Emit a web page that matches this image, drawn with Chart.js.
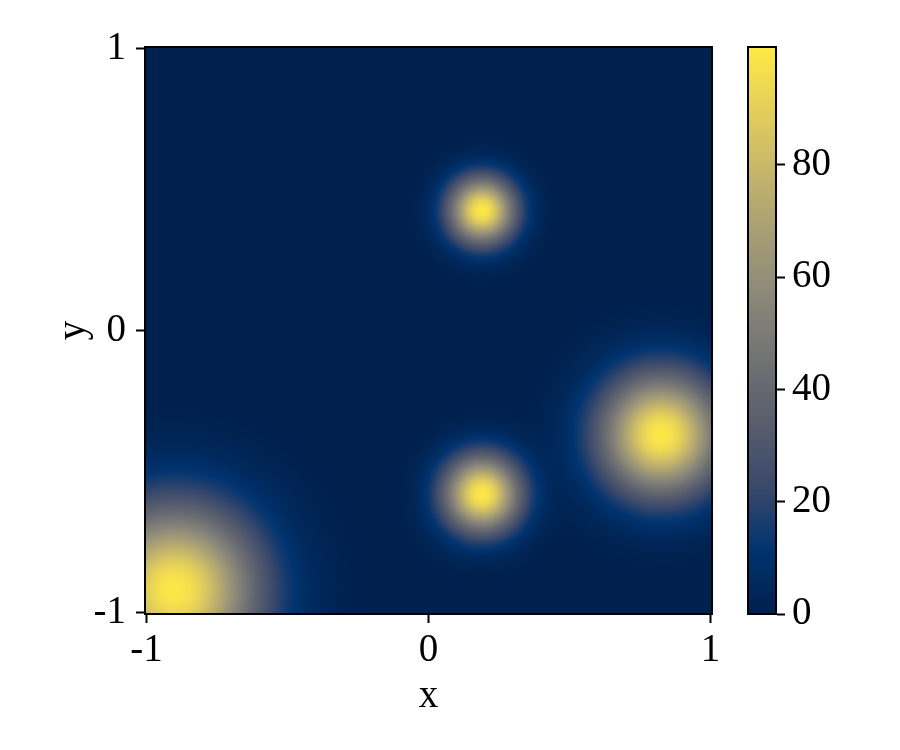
<!DOCTYPE html>
<html>
<head>
<meta charset="utf-8">
<script src="https://cdn.jsdelivr.net/npm/chart.js@4.4.1/dist/chart.umd.min.js"></script>
<style>
  body { margin: 0; background: #fff; }
  #wrap { position: relative; width: 900px; height: 750px; }
  #wrap canvas { position: absolute; left: 0; top: 0; }
</style>
</head>
<body>
<div id="wrap">
  <canvas id="heat" width="900" height="750"></canvas>
  <canvas id="cbar" width="900" height="750"></canvas>
</div>
<script>
// blobs (centre, spread, peak)
const blobX = [0.19, 0.19, 0.825, -0.90];
const blobY = [0.425, -0.58, -0.37, -0.92];
const blobSigma = [0.082, 0.095, 0.150, 0.205];
const blobPeak = [100, 100, 100, 100];

const xTicks = [-1, 0, 1];
const yTicks = [-1, 0, 1];
const cbarTicks = [0, 20, 40, 60, 80];
const cbarMax = 101;

// cividis anchors
const cividisStops = [0, 0.111, 0.222, 0.333, 0.444, 0.556, 0.667, 0.778, 0.889, 1];
const cividisRGB = [
  [0, 32, 77], [0, 51, 111], [57, 72, 107], [87, 93, 109], [112, 113, 115],
  [138, 135, 121], [166, 157, 117], [196, 181, 108], [228, 207, 91], [255, 234, 70]
];

function cividis(t) {
  t = Math.max(0, Math.min(1, t));
  let i = 0;
  while (i < cividisStops.length - 2 && t > cividisStops[i + 1]) i++;
  const f = (t - cividisStops[i]) / (cividisStops[i + 1] - cividisStops[i]);
  const a = cividisRGB[i], b = cividisRGB[i + 1];
  return [a[0] + (b[0] - a[0]) * f, a[1] + (b[1] - a[1]) * f, a[2] + (b[2] - a[2]) * f];
}

function fieldAt(x, y) {
  let v = 0;
  for (let k = 0; k < blobX.length; k++) {
    const dx = x - blobX[k], dy = y - blobY[k];
    v += blobPeak[k] * Math.exp(-(dx * dx + dy * dy) / (2 * blobSigma[k] * blobSigma[k]));
  }
  return v;
}

const FONT = { family: "'Liberation Serif', 'DejaVu Serif', serif", size: 39 };
Chart.defaults.color = '#000';

const heatPlugin = {
  id: 'heat',
  beforeDatasetsDraw(chart) {
    const { ctx, chartArea: a, scales } = chart;
    const w = Math.round(a.right - a.left), h = Math.round(a.bottom - a.top);
    const img = ctx.createImageData(w, h);
    for (let j = 0; j < h; j++) {
      const yv = scales.y.getValueForPixel(a.top + j + 0.5);
      for (let i = 0; i < w; i++) {
        const xv = scales.x.getValueForPixel(a.left + i + 0.5);
        const c = cividis(fieldAt(xv, yv) / cbarMax);
        const p = (j * w + i) * 4;
        img.data[p] = c[0]; img.data[p + 1] = c[1]; img.data[p + 2] = c[2]; img.data[p + 3] = 255;
      }
    }
    ctx.putImageData(img, Math.round(a.left), Math.round(a.top));
  },
  afterDatasetsDraw(chart) {
    const { ctx, chartArea: a } = chart;
    ctx.save();
    ctx.strokeStyle = '#000';
    ctx.lineWidth = 2;
    ctx.strokeRect(a.left, a.top, a.right - a.left, a.bottom - a.top);
    ctx.restore();
  }
};

new Chart(document.getElementById('heat'), {
  type: 'scatter',
  data: { datasets: [{ data: blobX.map((x, i) => ({ x: x, y: blobY[i] })), pointRadius: 0 }] },
  options: {
    responsive: false,
    animation: false,
    layout: { padding: { left: 0, top: 47, right: 188, bottom: 0 } },
    plugins: { legend: { display: false }, tooltip: { enabled: false } },
    scales: {
      x: {
        type: 'linear', min: -1.005, max: 1.005,
        afterBuildTicks: s => { s.ticks = xTicks.map(v => ({ value: v })); },
        afterFit: s => { s.height = 136; },
        ticks: { font: FONT, padding: 4, maxRotation: 0, callback: v => String(v) },
        grid: { drawOnChartArea: false, tickLength: 9, tickWidth: 2, tickColor: '#000' },
        border: { display: true, color: '#000', width: 2 },
        title: { display: true, text: 'x', font: FONT, padding: { top: 0, bottom: 30 } }
      },
      y: {
        type: 'linear', min: -1.005, max: 1.005,
        afterBuildTicks: s => { s.ticks = yTicks.map(v => ({ value: v })); },
        afterFit: s => { s.width = 145; },
        ticks: { font: FONT, padding: 10, callback: v => String(v) },
        grid: { drawOnChartArea: false, tickLength: 9, tickWidth: 2, tickColor: '#000' },
        border: { display: true, color: '#000', width: 2 },
        title: { display: true, text: 'y', font: FONT, padding: { top: 50, bottom: 0 } }
      }
    }
  },
  plugins: [heatPlugin]
});

const cbarPlugin = {
  id: 'cbar',
  beforeDatasetsDraw(chart) {
    const { ctx, chartArea: a, scales } = chart;
    for (let py = Math.floor(a.top); py < a.bottom; py++) {
      const c = cividis(scales.y.getValueForPixel(py + 0.5) / cbarMax);
      ctx.fillStyle = 'rgb(' + c.map(Math.round).join(',') + ')';
      ctx.fillRect(a.left, py, a.right - a.left, 1);
    }
  },
  afterDatasetsDraw(chart) {
    const { ctx, chartArea: a } = chart;
    ctx.save();
    ctx.strokeStyle = '#000';
    ctx.lineWidth = 2;
    ctx.strokeRect(a.left, a.top, a.right - a.left, a.bottom - a.top);
    ctx.restore();
  }
};

new Chart(document.getElementById('cbar'), {
  type: 'scatter',
  data: { datasets: [{ data: [], pointRadius: 0 }] },
  options: {
    responsive: false,
    animation: false,
    layout: { padding: { left: 748, top: 47, right: 0, bottom: 136 } },
    plugins: { legend: { display: false }, tooltip: { enabled: false } },
    scales: {
      x: { type: 'linear', display: false, min: 0, max: 1 },
      y: {
        type: 'linear', position: 'right', min: 0, max: cbarMax,
        afterBuildTicks: s => { s.ticks = cbarTicks.map(v => ({ value: v })); },
        afterFit: s => { s.width = 124; },
        ticks: { font: FONT, padding: 7, callback: v => String(v) },
        grid: { drawOnChartArea: false, tickLength: 9, tickWidth: 2, tickColor: '#000' },
        border: { display: true, color: '#000', width: 2 }
      }
    }
  },
  plugins: [cbarPlugin]
});
</script>
</body>
</html>
